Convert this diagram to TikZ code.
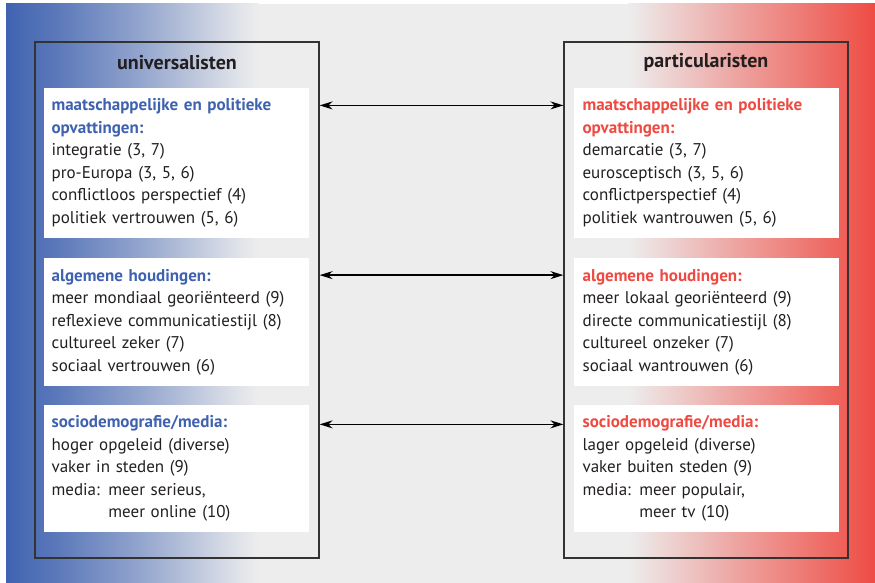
\documentclass[tikz,border=0pt]{standalone}
\usepackage{fontspec}
\setmainfont{PT Sans}
\usetikzlibrary{positioning, arrows.meta}

\definecolor{achtergrond}{HTML}{EDEDED}
\definecolor{uniblauw}{HTML}{3F62B0}
\definecolor{partrood}{HTML}{EE4A42}
\definecolor{tekstgrijs}{HTML}{231F20}
\definecolor{lijngrijs}{HTML}{333333}

% shading: only 25bp..75bp lands on the path
\pgfdeclarehorizontalshading{blauwzijde}{100bp}{%
  color(0bp)=(uniblauw); color(25bp)=(uniblauw);
  color(27bp)=(uniblauw!96!achtergrond); color(35bp)=(uniblauw!84!achtergrond);
  color(50bp)=(uniblauw!55!achtergrond); color(60bp)=(uniblauw!33!achtergrond);
  color(70bp)=(uniblauw!10!achtergrond); color(75bp)=(achtergrond); color(100bp)=(achtergrond)}
\pgfdeclarehorizontalshading{roodzijde}{100bp}{%
  color(0bp)=(achtergrond); color(25bp)=(achtergrond);
  color(35bp)=(partrood!20!achtergrond); color(47bp)=(partrood!45!achtergrond);
  color(60bp)=(partrood!70!achtergrond); color(72bp)=(partrood!93!achtergrond);
  color(75bp)=(partrood); color(100bp)=(partrood)}

\tikzset{
  groep/.style={draw=lijngrijs, line width=1.2pt, minimum width=284pt, minimum height=516pt},
  kop/.style={font=\fontsize{20}{24}\selectfont\bfseries, text=tekstgrijs},
  blok/.style={fill=white, text width=249pt, inner xsep=8pt, inner ysep=11pt, align=left,
    anchor=north west, text=tekstgrijs, font=\fontsize{17}{22.5}\selectfont},
  blokr/.style={blok, text width=247pt, inner xsep=9pt},
  pijl/.style={{Stealth[length=13pt,width=8pt]}-{Stealth[length=13pt,width=8pt]}, line width=1.6pt, black}
}

\newcommand{\unikop}[1]{\textcolor{uniblauw}{\bfseries #1}}
\newcommand{\partkop}[1]{\textcolor{partrood}{\bfseries #1}}

\begin{document}
\begin{tikzpicture}[x=1pt, y=-1pt]

    \useasboundingbox (0,0) rectangle (875,583);
    \fill[achtergrond] (6,4) rectangle (875,583);
    \shade[shading=blauwzijde] (6,4) rectangle (258,583);
    \shade[shading=roodzijde] (628,4) rectangle (875,583);

    \node[groep] (uni) at (177,300) {};
    \node[groep] (part) at (706,300) {};

    \node[kop] (unititel) at ([yshift=-21pt]uni.north) {universalisten};
    \node[kop] (parttitel) at ([yshift=-21pt]part.north) {particularisten};

    % universalisten
    \node[blok] (uni1) at ([shift={(9,46)}]uni.north west) {\unikop{maatschappelijke en politieke\\opvattingen:}\\
        integratie (3, 7)\\pro-Europa (3, 5, 6)\\conflictloos perspectief (4)\\politiek vertrouwen (5, 6)};
    \node[blok] (uni2) [below=20pt of uni1.south west, anchor=north west] {\unikop{algemene houdingen:}\\
        meer mondiaal georiënteerd (9)\\reflexieve communicatiestijl (8)\\cultureel zeker (7)\\sociaal vertrouwen (6)};
    \node[blok] (uni3) [below=18pt of uni2.south west, anchor=north west] {\unikop{sociodemografie/media:}\\
        hoger opgeleid (diverse)\\vaker in steden (9)\\media: meer serieus,\\\hphantom{media: }meer online (10)};

    % particularisten
    \node[blokr] (part1) at ([shift={(10,46)}]part.north west) {\partkop{maatschappelijke en politieke\\opvattingen:}\\
        demarcatie (3, 7)\\eurosceptisch (3, 5, 6)\\conflictperspectief (4)\\politiek wantrouwen (5, 6)};
    \node[blokr] (part2) [below=20pt of part1.south west, anchor=north west] {\partkop{algemene houdingen:}\\
        meer lokaal georiënteerd (9)\\directe communicatiestijl (8)\\cultureel onzeker (7)\\sociaal wantrouwen (6)};
    \node[blokr] (part3) [below=18pt of part2.south west, anchor=north west] {\partkop{sociodemografie/media:}\\
        lager opgeleid (diverse)\\vaker buiten steden (9)\\media: meer populair,\\\hphantom{media: }meer tv (10)};

    \coordinate (h1) at ([yshift=-18pt]uni1.north);
    \coordinate (h2) at ([yshift=-17pt]uni2.north);
    \coordinate (h3) at ([yshift=-20pt]uni3.north);

    \draw[pijl] (uni.east |- h1) -- (part.west |- h1);
    \draw[pijl] (uni.east |- h2) -- (part.west |- h2);
    \draw[pijl] (uni.east |- h3) -- (part.west |- h3);

\end{tikzpicture}
\end{document}
